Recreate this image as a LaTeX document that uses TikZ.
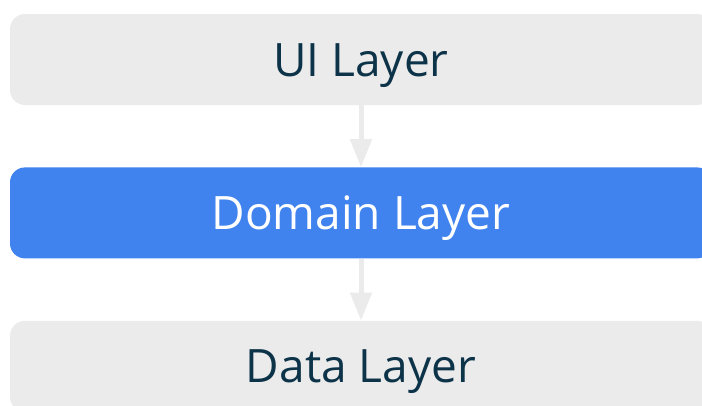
\documentclass[tikz,border=0pt]{standalone}
\usepackage{fontspec}
\setmainfont{Open Sans}
\usetikzlibrary{positioning,arrows.meta}

\definecolor{layergray}{HTML}{EBEBEB}
\definecolor{layerblue}{HTML}{4083EF}
\definecolor{layerink}{HTML}{0D3349}
\definecolor{arrowgray}{HTML}{EBEBEB}

\begin{document}
\begin{tikzpicture}[
  node distance=62pt,
  layer/.style={rectangle, rounded corners=15pt, minimum width=702pt, minimum height=91pt,
    inner sep=0pt, text height=62pt, text depth=29pt,
    text=layerink, font=\fontsize{46}{50}\selectfont},
  flow/.style={-{Triangle[width=21pt,length=28pt]}, line width=5pt, arrowgray}
]
  \clip (0,0) rectangle (702pt,-405pt);
  \useasboundingbox (0,0) rectangle (702pt,-405pt);

  % Layers
  \node[layer, fill=layergray] (ui) at (361pt,-59.5pt) {UI Layer};
  \node[layer, fill=layerblue, text=white, below=of ui] (domain) {Domain Layer};
  \node[layer, fill=layergray, below=of domain] (data) {Data Layer};

  % Dependencies
  \draw[flow] (ui) -- (domain);
  \draw[flow] (domain) -- (data);
\end{tikzpicture}
\end{document}
